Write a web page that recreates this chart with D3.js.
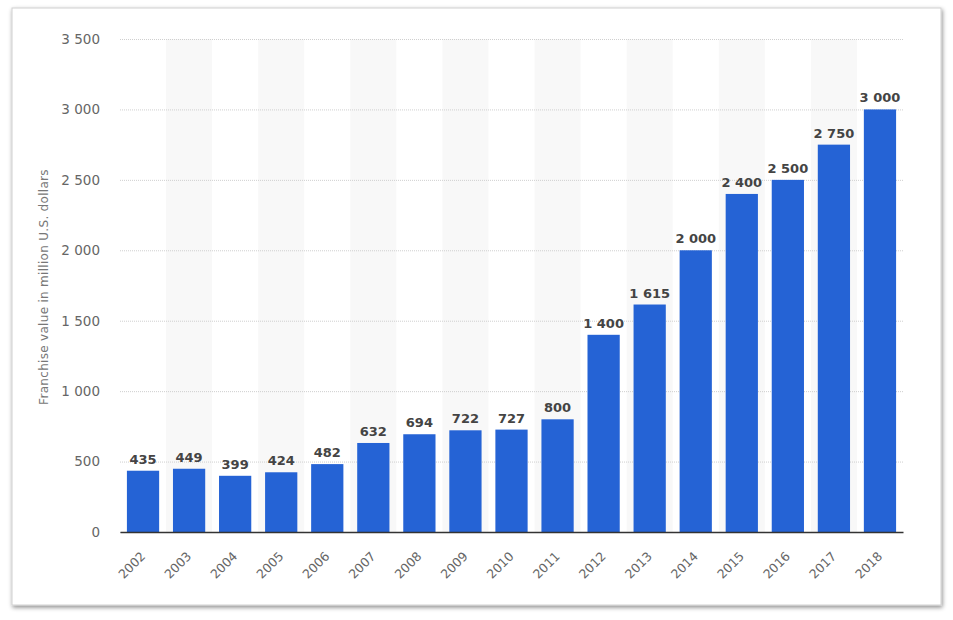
<!DOCTYPE html>
<html><head><meta charset="utf-8">
<script src="https://cdn.jsdelivr.net/npm/d3@7"></script>
<style>
body{margin:0;background:#fff;}
svg{display:block;font-family:"DejaVu Sans",sans-serif;}
</style></head>
<body><svg id="c" width="953" height="620"></svg>
<script>
const years = ["2002","2003","2004","2005","2006","2007","2008","2009","2010","2011","2012","2013","2014","2015","2016","2017","2018"];
const values = [435,449,399,424,482,632,694,722,727,800,1400,1615,2000,2400,2500,2750,3000];
const yTicks = [0,500,1000,1500,2000,2500,3000,3500];
const yTitle = "Franchise value in million U.S. dollars";

const svg = d3.select("#c");
const defs = svg.append("defs");
const f = defs.append("filter").attr("id","sh").attr("x","-5%").attr("y","-5%").attr("width","110%").attr("height","110%");
f.append("feDropShadow").attr("dx",1).attr("dy",2).attr("stdDeviation",2).attr("flood-color","#000").attr("flood-opacity",0.45);
svg.append("rect").attr("x",12).attr("y",8).attr("width",929).attr("height",597).attr("fill","#fff").attr("stroke","#d0d0d0").attr("filter","url(#sh)");

const L=120,R=903,T=39,B=532;
const x = d3.scaleBand().domain(years).range([L,R]).paddingInner(0.3).paddingOuter(0.15);
const xb = d3.scaleBand().domain(years).range([L,R]).padding(0);
const y = d3.scaleLinear().domain([0,3500]).range([B,T]);
const fmt = v => d3.format(",")(v).replace(/,/g," ");

// alternating bands
svg.append("g").selectAll("rect").data(years.filter((d,i)=>i%2===1)).join("rect")
  .attr("x",d=>xb(d)).attr("width",xb.bandwidth()).attr("y",T).attr("height",B-T).attr("fill","#f8f8f8");

// grid
const ga = svg.append("g").attr("transform",`translate(${L},0)`)
  .call(d3.axisLeft(y).tickValues(yTicks).tickSize(-(R-L)).tickFormat(""));
ga.select(".domain").remove();
ga.selectAll("line").attr("stroke","#cfcfcf").attr("stroke-dasharray","1,1");

// y labels
const yl = svg.append("g").attr("transform",`translate(${L},0)`)
  .call(d3.axisLeft(y).tickValues(yTicks).tickSize(0).tickPadding(20).tickFormat(fmt));
yl.select(".domain").remove();
yl.selectAll("text").attr("fill","#666").attr("font-size",13.5).attr("font-family","DejaVu Sans");

// bars
svg.append("g").selectAll("rect").data(years).join("rect")
  .attr("x",d=>x(d)).attr("width",x.bandwidth())
  .attr("y",(d,i)=>y(values[i])).attr("height",(d,i)=>B-y(values[i]))
  .attr("fill","#2563d5");

// value labels
svg.append("g").selectAll("text").data(years).join("text")
  .attr("x",d=>x(d)+x.bandwidth()/2).attr("y",(d,i)=>y(values[i])-7)
  .attr("text-anchor","middle").attr("font-size",13).attr("font-weight","bold")
  .attr("fill","#444")
  .text((d,i)=>fmt(values[i]));

// x axis baseline
const xa = svg.append("g").attr("transform",`translate(0,${B})`)
  .call(d3.axisBottom(xb).tickSize(0).tickFormat(""));
xa.select(".domain").attr("stroke","#333").attr("stroke-width",1.5);

// x labels (rotated)
svg.append("g").selectAll("text").data(years).join("text")
  .attr("transform",d=>`translate(${xb(d)+xb.bandwidth()/2},${B+22}) rotate(-45)`)
  .attr("text-anchor","end").attr("dy","0.35em")
  .attr("font-size",12.5).attr("fill","#666").text(d=>d);

// y title
svg.append("text").attr("transform",`translate(44,287) rotate(-90)`)
  .attr("text-anchor","middle").attr("dy","0.35em").attr("font-size",12).attr("letter-spacing",0.3)
  .attr("fill","#777").text(yTitle);
</script></body></html>
